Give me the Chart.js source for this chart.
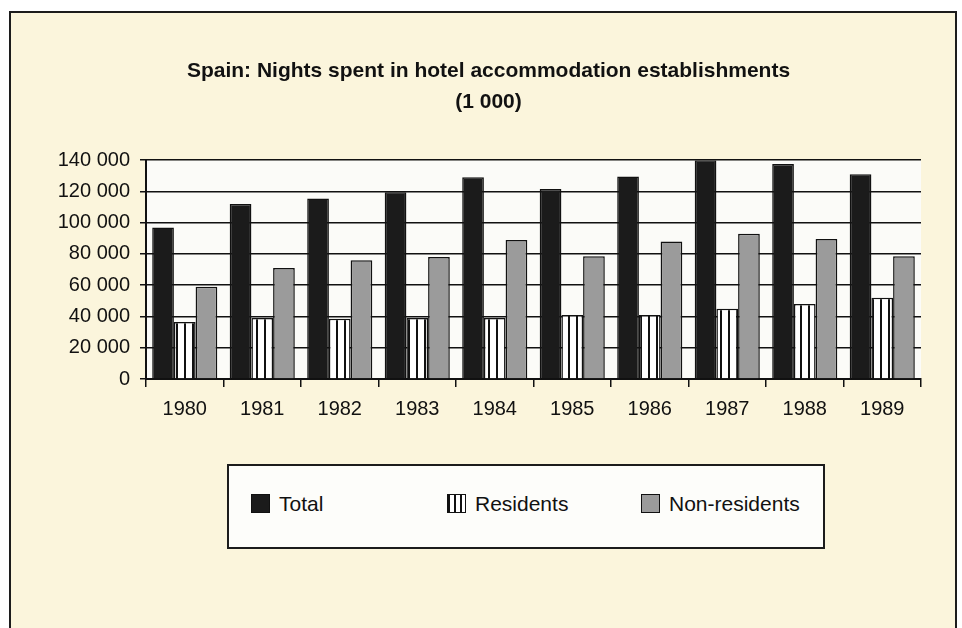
<!DOCTYPE html>
<html>
<head>
<meta charset="utf-8">
<script src="https://cdn.jsdelivr.net/npm/chart.js@4/dist/chart.umd.min.js"></script>
<style>
  body { margin: 0; background: #fff; width: 962px; height: 628px; overflow: hidden; position: relative; font-family: "Liberation Sans", Arial, sans-serif; }
  #frame { position: absolute; left: 9px; top: 11px; width: 944px; height: 640px; border: 2px solid #1c1c1c; background: #fbf5dc; }
  #chart { position: absolute; left: 0; top: 0; }
  #legend { position: absolute; left: 227px; top: 464px; width: 594px; height: 81px; border: 2px solid #1c1c1c; background: #fdfdfa; }
  .item { position: absolute; top: 26px; font-size: 21px; color: #111; line-height: 24px; white-space: nowrap; }
  .sw { display: inline-block; width: 19px; height: 19px; border: 1.5px solid #111; box-sizing: border-box; vertical-align: -2px; margin-right: 9px; }
</style>
</head>
<body>
<div id="frame"></div>
<canvas id="chart" width="962" height="628"></canvas>
<div id="legend"></div>
<script>
const years = ['1980', '1981', '1982', '1983', '1984', '1985', '1986', '1987', '1988', '1989'];
const total = [97000, 112000, 115500, 119500, 129000, 121500, 129500, 140000, 137500, 131000];
const residents = [36500, 39000, 38500, 39000, 39000, 41000, 41000, 45000, 48000, 52000];
const nonResidents = [59000, 71000, 76000, 78000, 89000, 78500, 88000, 93000, 89500, 78500];
const seriesNames = ['Total', 'Residents', 'Non-residents'];
const yTicks = [0, 20000, 40000, 60000, 80000, 100000, 120000, 140000];

// vertical stripes for residents
function stripes() {
  const c = document.createElement('canvas');
  c.width = 8; c.height = 8;
  const g = c.getContext('2d');
  g.fillStyle = '#fff';
  g.fillRect(0, 0, 8, 8);
  g.fillStyle = '#111';
  g.fillRect(0, 0, 2, 8);
  return g.createPattern(c, 'repeat');
}
const stripePattern = stripes();

function spaced(v) {
  return String(v).replace(/\B(?=(\d{3})+(?!\d))/g, ' ');
}

const plotBg = {
  id: 'plotBg',
  beforeDraw(chart) {
    const a = chart.chartArea, ctx = chart.ctx;
    ctx.save();
    ctx.fillStyle = '#fbfbf8';
    ctx.fillRect(a.left, a.top, a.right - a.left, a.bottom - a.top);
    ctx.restore();
  }
};

const fills = ['#1b1b1b', stripePattern, '#9b9b9b'];

new Chart(document.getElementById('chart'), {
  type: 'bar',
  plugins: [plotBg],
  data: {
    labels: years,
    datasets: [total, residents, nonResidents].map((d, i) => ({
      label: seriesNames[i],
      data: d,
      backgroundColor: fills[i],
      borderColor: '#111',
      borderWidth: 1.5
    }))
  },
  options: {
    responsive: false,
    animation: false,
    devicePixelRatio: 1,
    categoryPercentage: 0.84,
    barPercentage: 1.0,
    layout: { padding: { left: 56, right: 41, top: 0, bottom: 199 } },
    font: { family: '"Liberation Sans", Arial, sans-serif' },
    plugins: {
      legend: { display: false },
      tooltip: { enabled: false },
      title: {
        display: true,
        text: ['Spain: Nights spent in hotel accommodation establishments', '(1 000)'],
        color: '#111',
        font: { size: 21, weight: 'bold', family: '"Liberation Sans", Arial, sans-serif', lineHeight: 1.48 },
        padding: { top: 56, bottom: 42 }
      }
    },
    scales: {
      x: {
        offset: true,
        afterFit(s) { s.height = 50; },
        grid: { display: true, drawOnChartArea: false, offset: true, color: '#111', lineWidth: 1.5, tickLength: 8 },
        border: { display: true, color: '#111', width: 2 },
        ticks: { color: '#111', padding: 10, font: { size: 20, family: '"Liberation Sans", Arial, sans-serif' } }
      },
      y: {
        min: 0,
        max: 140000,
        afterFit(s) { s.width = 90; },
        afterBuildTicks(s) { s.ticks = yTicks.map(v => ({ value: v })); },
        grid: { color: '#111', lineWidth: 1.5, tickLength: 6 },
        border: { display: true, color: '#111', width: 2 },
        ticks: {
          color: '#111',
          padding: 10,
          font: { size: 20, family: '"Liberation Sans", Arial, sans-serif' },
          callback: v => spaced(v)
        }
      }
    }
  }
});

// legend box
const legendLeft = [22, 218, 412];
const swatchCss = [
  'background:#1b1b1b',
  'background: repeating-linear-gradient(90deg, #111 0 2px, #fff 2px 6px)',
  'background:#9b9b9b'
];
const legend = document.getElementById('legend');
seriesNames.forEach((name, i) => {
  const el = document.createElement('div');
  el.className = 'item';
  el.style.left = legendLeft[i] + 'px';
  el.innerHTML = '<span class="sw" style="' + swatchCss[i] + '"></span>' + name;
  legend.appendChild(el);
});
</script>
</body>
</html>
